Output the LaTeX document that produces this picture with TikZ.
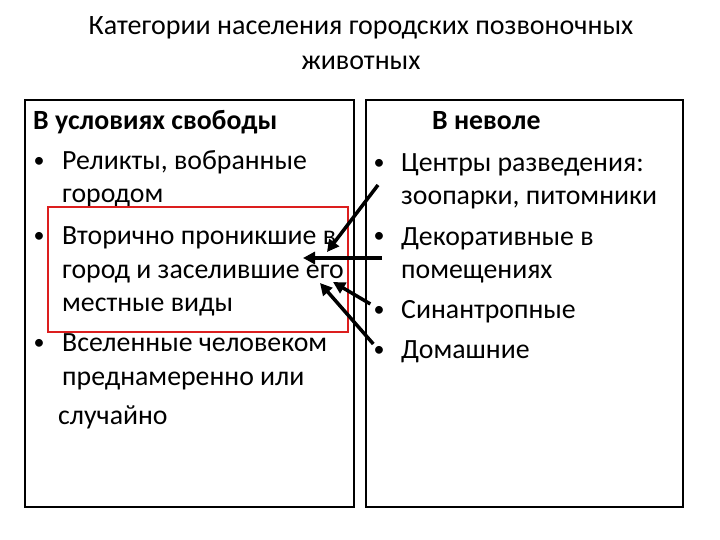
\documentclass[tikz,border=0pt]{standalone}
\usepackage{fontspec}
\setmainfont{Carlito}
\usepackage{xcolor}
\usetikzlibrary{calc,arrows.meta}
\definecolor{framered}{RGB}{220,30,30}

\begin{document}
\begin{tikzpicture}[x=1pt,y=-1pt,
	txt/.style={anchor=base west,inner sep=0pt,font=\fontsize{27.8}{32}\selectfont},
	dot/.style={anchor=base,inner sep=0pt,font=\fontsize{22}{26}\selectfont},
	ttl/.style={anchor=base,inner sep=0pt,font=\fontsize{28}{32}\selectfont},
	pointer/.style={-{Triangle[length=12pt,width=12pt]},line width=3.5pt}]
	\useasboundingbox (0,0) rectangle (720,540);
	\node[ttl] (title1) at (361,35) {Категории населения городских позвоночных};
	\node[ttl] (title2) at (361,70) {животных};
	\draw[line width=2.2pt] (25,100) rectangle (354,507);
	\draw[line width=2.2pt] (366,100) rectangle (683,507);
	% left column
	\node[txt] (freehead) at (33,130) {\textbf{В условиях свободы}};
	\node[dot] (b1) at (39,168) {•};
	\node[txt] (relict) at (62,170) {Реликты, вобранные};
	\node[txt] (relict2) at (62,203) {городом};
	\node[dot] (b2) at (39,242) {•};
	\node[txt] (second) at (62,244) {Вторично проникшие в};
	\node[txt] (second2) at (62,278) {город и заселившие его};
	\node[txt] (second3) at (62,311) {местные виды};
	\node[dot] (b3) at (39,349) {•};
	\node[txt] (settled) at (62,351) {Вселенные человеком};
	\node[txt] (settled2) at (62,385) {преднамеренно или};
	\node[txt] (settled3) at (58,424) {случайно};
	% right column
	\node[txt] (caphead) at (432,130) {\textbf{В неволе}};
	\node[dot] (c1) at (379,170) {•};
	\node[txt] (centres) at (401,172) {Центры разведения:};
	\node[txt] (centres2) at (401,205) {зоопарки, питомники};
	\node[dot] (c2) at (379,243) {•};
	\node[txt] (decor) at (401,245) {Декоративные в};
	\node[txt] (decor2) at (401,278) {помещениях};
	\node[dot] (c3) at (379,316) {•};
	\node[txt] (synan) at (401,318) {Синантропные};
	\node[dot] (c4) at (379,356) {•};
	\node[txt] (domestic) at (401,358) {Домашние};
	% red frame and arrows
	\draw[framered,line width=2.8pt] (48,207) rectangle (348,332);
	\coordinate (tipA) at (327,252);
	\coordinate (tipB) at (303,258);
	\coordinate (tipC) at (333,282);
	\coordinate (tipD) at (320,283);
	\coordinate (startA) at (378,185);
	\coordinate (startB) at (382,258);
	\draw[pointer] (startA) -- (tipA);
	\draw[pointer] (startB) -- (tipB);
	\draw[pointer] ($(c3.west)+(-3,-7)$) -- (tipC);
	\draw[pointer] ($(c4.west)+(0,-7)$) -- (tipD);
\end{tikzpicture}
\end{document}
